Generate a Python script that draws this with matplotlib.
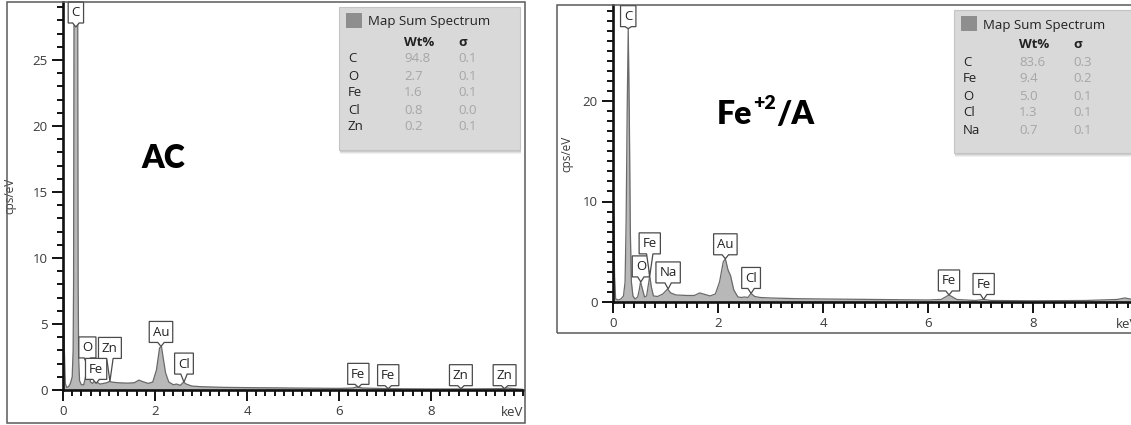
import matplotlib
matplotlib.use("Agg")
import matplotlib.pyplot as plt
from matplotlib.patches import Polygon, Rectangle
from matplotlib.transforms import IdentityTransform
from matplotlib.ticker import MultipleLocator

plt.rcParams['font.family'] = ['Open Sans', 'DejaVu Sans']

W, H, DPI = 1131, 425, 100

# ---------------- spectrum data (keV, cps/eV) ----------------
ac_energy = [0.00, 0.015, 0.03, 0.05, 0.08, 0.12, 0.16, 0.20, 0.22, 0.23, 0.24, 0.26,
             0.28, 0.30, 0.32, 0.33, 0.34, 0.36, 0.40, 0.45, 0.49, 0.525, 0.56, 0.60,
             0.64, 0.70, 0.74, 0.80, 0.88, 0.95, 1.01, 1.06, 1.20, 1.40, 1.55, 1.65,
             1.72, 1.85, 1.95, 2.03, 2.10, 2.14, 2.18, 2.23, 2.30, 2.40, 2.47, 2.55,
             2.62, 2.68, 2.80, 3.00, 3.50, 4.00, 5.00, 6.00, 6.30, 6.40, 6.50, 7.06,
             8.00, 8.63, 9.50, 9.65, 9.80, 10.0]
ac_counts = [0.5, 8.3, 3.0, 0.5, 0.2, 0.25, 0.5, 1.0, 3.0, 8.0, 30.0, 120.0,
             200.0, 120.0, 30.0, 8.0, 2.5, 0.7, 0.4, 0.4, 1.0, 1.9, 1.2, 0.6,
             0.5, 0.75, 0.6, 0.45, 0.5, 0.55, 0.65, 0.6, 0.55, 0.52, 0.55, 0.75,
             0.65, 0.5, 0.6, 1.5, 3.2, 3.3, 2.4, 1.3, 0.6, 0.4, 0.45, 0.35,
             0.6, 0.45, 0.3, 0.25, 0.2, 0.18, 0.15, 0.12, 0.15, 0.25, 0.15, 0.1,
             0.08, 0.08, 0.1, 0.15, 0.1, 0.05]

fe_energy = [0.00, 0.015, 0.03, 0.05, 0.10, 0.15, 0.20, 0.23, 0.25, 0.27, 0.29, 0.31,
             0.33, 0.35, 0.38, 0.42, 0.47, 0.50, 0.525, 0.55, 0.60, 0.64, 0.67, 0.70,
             0.73, 0.77, 0.85, 0.95, 1.04, 1.10, 1.20, 1.40, 1.55, 1.65, 1.72, 1.85,
             1.95, 2.03, 2.10, 2.14, 2.19, 2.24, 2.30, 2.38, 2.45, 2.50, 2.57, 2.63,
             2.70, 2.80, 3.00, 3.50, 4.00, 5.00, 6.00, 6.25, 6.40, 6.55, 6.90, 7.06,
             7.20, 8.00, 9.00, 9.60, 9.75, 9.90, 10.0]
fe_counts = [0.3, 8.5, 2.5, 0.3, 0.2, 0.3, 0.6, 2.0, 8.0, 19.0, 27.2, 19.0,
             7.0, 2.0, 0.6, 0.3, 0.5, 1.2, 2.0, 1.5, 0.5, 0.6, 1.6, 2.6,
             1.5, 0.6, 0.55, 0.8, 1.3, 0.9, 0.7, 0.65, 0.65, 0.9, 0.8, 0.6,
             0.8, 2.0, 4.0, 4.3, 3.2, 2.6, 1.2, 0.5, 0.45, 0.5, 0.45, 0.85,
             0.55, 0.45, 0.4, 0.33, 0.3, 0.25, 0.2, 0.25, 0.7, 0.25, 0.15, 0.25,
             0.15, 0.12, 0.15, 0.25, 0.4, 0.25, 0.1]

# peak markers: element, energy (keV), marker tip value (cps/eV)
ac_peak_names = ['C', 'O', 'Fe', 'Zn', 'Au', 'Cl', 'Fe', 'Fe', 'Zn', 'Zn']
ac_peak_energy = [0.28, 0.53, 0.72, 1.02, 2.13, 2.63, 6.42, 7.07, 8.65, 9.60]
ac_peak_tip = [27.5, 1.9, 0.5, 0.65, 3.3, 0.6, 0.2, 0.1, 0.1, 0.1]
ac_peak_tail = [4, 7, 4, 23, 4, 8, 3, 3, 3, 3]

fe_peak_names = ['C', 'O', 'Fe', 'Na', 'Au', 'Cl', 'Fe', 'Fe']
fe_peak_energy = [0.29, 0.53, 0.70, 1.05, 2.14, 2.63, 6.40, 7.06]
fe_peak_tip = [27.2, 2.0, 2.6, 1.3, 4.3, 0.85, 0.7, 0.25]
fe_peak_tail = [2, 5, 22, 6, 4, 5, 4, 5]

# quantification tables
ac_elements = ['C', 'O', 'Fe', 'Cl', 'Zn']
ac_wt = ['94.8', '2.7', '1.6', '0.8', '0.2']
ac_sigma = ['0.1', '0.1', '0.1', '0.0', '0.1']

fe_elements = ['C', 'Fe', 'O', 'Cl', 'Na']
fe_wt = ['83.6', '9.4', '5.0', '1.3', '0.7']
fe_sigma = ['0.3', '0.2', '0.1', '0.1', '0.1']

# ---------------- figure ----------------
fig = plt.figure(figsize=(W / DPI, H / DPI), dpi=DPI)
fig.patch.set_facecolor('white')


def px_rect(x0, y0, x1, y1):
    """figure-fraction rect from image pixel box (y measured from top)."""
    return [x0 / W, 1 - y1 / H, (x1 - x0) / W, (y1 - y0) / H]


# panel frames
for (x0, y0, x1, y1) in [(7, 2, 525, 423), (557, 5, 1145, 333)]:
    fig.patches.append(Rectangle((x0 / W, 1 - y1 / H), (x1 - x0) / W, (y1 - y0) / H,
                                 transform=fig.transFigure, fill=False,
                                 edgecolor='#5a5a5a', lw=1.1))

ax1 = fig.add_axes(px_rect(63, 2, 523, 390))
ax2 = fig.add_axes(px_rect(613, 5, 1138, 302))

TICK_C = '#3a3a3a'


def style_axes(ax, ytop, ymajor, ylab_x):
    ax.set_xlim(0, 10)
    ax.set_ylim(0, ytop)
    for s in ['top', 'right']:
        ax.spines[s].set_visible(False)
    for s in ['left', 'bottom']:
        ax.spines[s].set_linewidth(1.9)
        ax.spines[s].set_color('#111111')
    ax.set_xticks([0, 2, 4, 6, 8])
    ax.xaxis.set_minor_locator(MultipleLocator(0.2))
    ax.yaxis.set_major_locator(MultipleLocator(ymajor))
    ax.yaxis.set_minor_locator(MultipleLocator(1))
    ax.tick_params(which='major', direction='out', length=8, width=1.4,
                   color='#111111', labelsize=9.5, labelcolor=TICK_C, pad=3)
    ax.tick_params(which='minor', direction='out', length=4, width=1.4,
                   color='#111111')
    ax.set_ylabel('cps/eV', fontsize=8.5, color=TICK_C)
    ax.yaxis.set_label_coords(ylab_x, 0.5)
    ax.annotate('keV', xy=(1, 0), xycoords='axes fraction', xytext=(0, -16),
                textcoords='offset points', ha='right', va='center',
                fontsize=9.5, color=TICK_C, annotation_clip=False)
    ax.patch.set_alpha(0)


style_axes(ax1, 388 / 13.2, 5, -0.102)
style_axes(ax2, 297 / 10.05, 10, -0.076)

for ax, e, c in [(ax1, ac_energy, ac_counts), (ax2, fe_energy, fe_counts)]:
    ax.fill_between(e, c, 0, color='#b8b8b8', lw=0, zorder=1)
    ax.plot(e, c, color='#6a6a6a', lw=0.9, zorder=2)

fig.canvas.draw()
renderer = fig.canvas.get_renderer()

# sample names
TITLE_FONT = ['Lato', 'DejaVu Sans']
fig.text(163, H - 158, 'AC', fontsize=23, fontweight='heavy',
         family=TITLE_FONT, ha='center', va='center', transform=IdentityTransform())

# "Fe" + superscript "+2" + "/A", laid out piece by piece
base_y = H - 124
x = 717
for txt, size, dy in [('Fe', 23, 0), ('+2', 14, 15), ('/A', 23, 0)]:
    t = fig.text(x, base_y + dy, txt, fontsize=size, fontweight='heavy',
                 family=TITLE_FONT, ha='left', va='baseline',
                 transform=IdentityTransform())
    x = t.get_window_extent(renderer).x1 + (1 if txt == 'Fe' else 0)


def draw_markers(ax, names, energies, tips, tails):
    for name, e, v, tail in zip(names, energies, tips, tails):
        tx, ty = ax.transData.transform((e, v))
        bottom = ty + tail
        box_h = 21
        t = ax.text(tx, bottom + box_h / 2 - 0.5, name, transform=IdentityTransform(),
                    ha='center', va='center', fontsize=9.5, color='#222222',
                    zorder=6, clip_on=False)
        bb = t.get_window_extent(renderer)
        half = bb.width / 2 + 3.5
        hw = 3.2
        verts = [(tx - half, bottom), (tx - half, bottom + box_h),
                 (tx + half, bottom + box_h), (tx + half, bottom),
                 (tx + hw, bottom), (tx, ty), (tx - hw, bottom)]
        poly = Polygon(verts, closed=True, transform=IdentityTransform(),
                       facecolor='white', edgecolor='#4a4a4a', lw=0.9,
                       zorder=5, clip_on=False)
        ax.add_artist(poly)


draw_markers(ax1, ac_peak_names, ac_peak_energy, ac_peak_tip, ac_peak_tail)
draw_markers(ax2, fe_peak_names, fe_peak_energy, fe_peak_tip, fe_peak_tail)


def draw_table(x0, y0, elements, wt, sigma):
    w, h = 181, 143

    def fx(x):
        return x / W

    def fy(y):
        return 1 - y / H

    # drop shadow
    for k, a in [(4, 0.08), (3, 0.10), (2, 0.14)]:
        fig.patches.append(Rectangle((fx(x0 + 1), fy(y0 + h + k)), w / W, (h) / H,
                                     transform=fig.transFigure, facecolor='#555555',
                                     alpha=a, lw=0))
    fig.patches.append(Rectangle((fx(x0), fy(y0 + h)), w / W, h / H,
                                 transform=fig.transFigure, facecolor='#d9d9d9',
                                 edgecolor='#c4c4c4', lw=0.8))
    fig.patches.append(Rectangle((fx(x0 + 7), fy(y0 + 21)), 16 / W, 15 / H,
                                 transform=fig.transFigure, facecolor='#8e8e8e', lw=0))
    fig.text(fx(x0 + 29), fy(y0 + 15), 'Map Sum Spectrum', fontsize=9.5,
             color='#222222', va='center', ha='left')
    fig.text(fx(x0 + 65), fy(y0 + 35), 'Wt%', fontsize=9.5, fontweight='bold',
             color='#222222', va='center', ha='left')
    fig.text(fx(x0 + 119), fy(y0 + 35), 'σ', fontsize=9.5, fontweight='bold',
             color='#222222', va='center', ha='left')
    for i, (el, v, s) in enumerate(zip(elements, wt, sigma)):
        yy = y0 + 52 + 17 * i
        fig.text(fx(x0 + 9), fy(yy), el, fontsize=9.5, color='#222222',
                 va='center', ha='left')
        fig.text(fx(x0 + 65), fy(yy), v, fontsize=9.5, color='#a6a6a6',
                 va='center', ha='left')
        fig.text(fx(x0 + 119), fy(yy), s, fontsize=9.5, color='#a6a6a6',
                 va='center', ha='left')


draw_table(339, 7, ac_elements, ac_wt, ac_sigma)
draw_table(954, 10, fe_elements, fe_wt, fe_sigma)

fig.savefig('out.png', dpi=DPI)
